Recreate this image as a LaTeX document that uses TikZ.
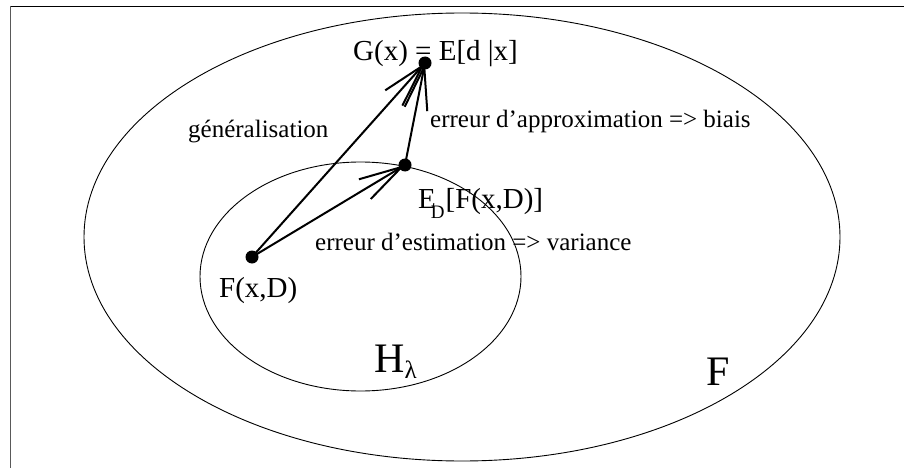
\documentclass[tikz,border=0pt]{standalone}
\usepackage{fontspec}
\setmainfont{Liberation Serif}
\usetikzlibrary{arrows.meta}
\begin{document}
\begin{tikzpicture}[x=1pt,y=-1pt,
  lbl/.style={anchor=base west,inner sep=0pt,font=\fontsize{25}{30}\selectfont},
  lblb/.style={anchor=base west,inner sep=0pt,font=\fontsize{29}{34}\selectfont},
  big/.style={anchor=base west,inner sep=0pt,font=\fontsize{42}{48}\selectfont},
  dot/.style={circle,fill=black,inner sep=0pt,minimum size=13pt},
  arr/.style={line width=2pt,-{Straight Barb[length=43pt,width=23pt,line width=2pt]}},
  set/.style={line width=0.9pt}]
\useasboundingbox (0,0) rectangle (904,468);
% frame
\draw[line width=1.3pt] (904,6.5) -- (10,6.5);
\draw[line width=1.6pt,black!65] (10.5,6) -- (10.5,468);
% sets
\draw[set] (462,237) ellipse [x radius=378, y radius=224];
\draw[set] (360.5,276.5) ellipse [x radius=160.5, y radius=114.5];
% points
\coordinate (F) at (252,257);
\coordinate (E) at (405,165);
\coordinate (G) at (425,63);
\draw[arr] (F) -- (G);
\draw[arr] (F) -- (E);
\draw[arr] (E) -- (G);
\node[dot] (Fd) at (F) {};
\node[dot] (Ed) at (E) {};
\node[dot] (Gd) at (G) {};
% labels
\node[lblb] (gl) at (353,61) {G(x) = E[d |x]};
\node[lbl] (gen) at (188,137) {généralisation};
\node[lbl] (app) at (430,128) {erreur d’approximation => biais};
\node[lblb] (el) at (418,208) {E\kern-5pt\raisebox{-10pt}{\fontsize{19}{20}\selectfont D}\kern1pt[F(x,D)]};
\node[lbl] (est) at (315,250) {erreur d’estimation => variance};
\node[lblb] (fl) at (219,297) {F(x,D)};
\node[big] (hl) at (374,372) {H\kern0pt\raisebox{-6pt}{\fontsize{25}{26}\selectfont λ}};
\node[big] (fs) at (706,385) {F};
\end{tikzpicture}
\end{document}
